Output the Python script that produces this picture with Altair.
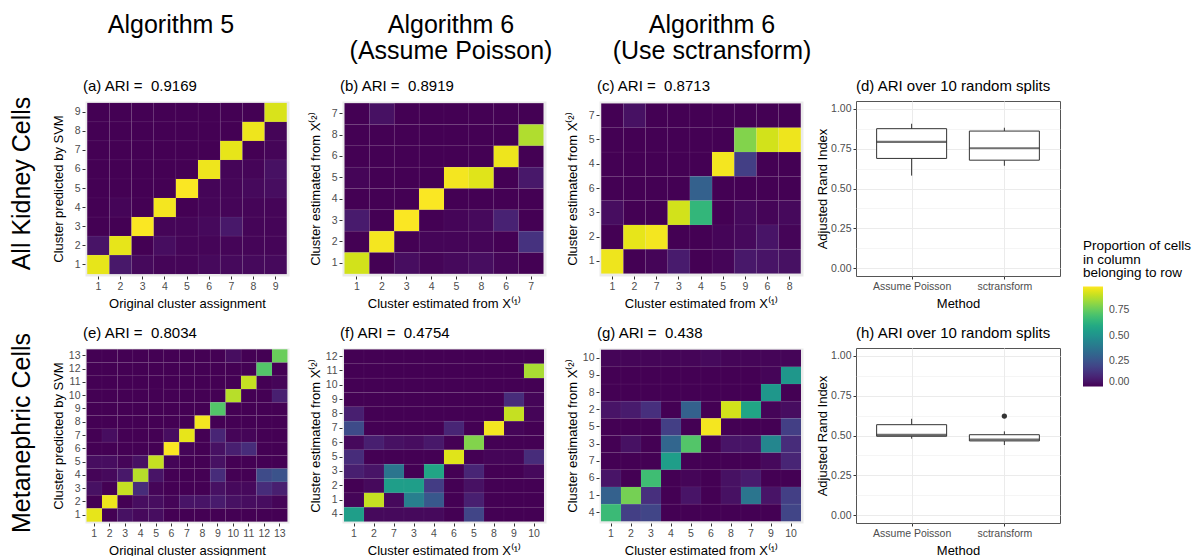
import altair as alt
import pandas as pd

# ---------------- heatmap data (rows listed top -> bottom) ----------------
A_cols = ["1", "2", "3", "4", "5", "6", "7", "8", "9"]
A_rows = ["9", "8", "7", "6", "5", "4", "3", "2", "1"]
A_vals = [
    [0.00, 0.00, 0.00, 0.00, 0.00, 0.00, 0.00, 0.00, 0.93],
    [0.00, 0.00, 0.00, 0.00, 0.00, 0.00, 0.00, 0.96, 0.01],
    [0.00, 0.00, 0.00, 0.00, 0.00, 0.00, 0.95, 0.00, 0.01],
    [0.00, 0.00, 0.00, 0.00, 0.00, 0.96, 0.01, 0.01, 0.04],
    [0.00, 0.00, 0.00, 0.00, 0.98, 0.01, 0.01, 0.02, 0.03],
    [0.00, 0.01, 0.00, 0.97, 0.00, 0.01, 0.01, 0.01, 0.01],
    [0.00, 0.00, 0.98, 0.01, 0.01, 0.02, 0.06, 0.01, 0.01],
    [0.05, 0.95, 0.00, 0.03, 0.01, 0.01, 0.01, 0.01, 0.01],
    [0.95, 0.06, 0.02, 0.01, 0.01, 0.02, 0.02, 0.02, 0.02],
]

B_cols = ["1", "2", "3", "4", "5", "8", "6", "7"]
B_rows = ["7", "8", "6", "5", "4", "3", "2", "1"]
B_vals = [
    [0.00, 0.04, 0.00, 0.00, 0.00, 0.00, 0.00, 0.00],
    [0.00, 0.00, 0.00, 0.00, 0.00, 0.00, 0.00, 0.87],
    [0.00, 0.00, 0.00, 0.00, 0.00, 0.00, 0.96, 0.00],
    [0.01, 0.00, 0.00, 0.00, 0.97, 0.94, 0.00, 0.06],
    [0.00, 0.00, 0.00, 0.98, 0.00, 0.00, 0.00, 0.00],
    [0.07, 0.00, 0.98, 0.00, 0.01, 0.02, 0.09, 0.00],
    [0.00, 0.97, 0.00, 0.01, 0.01, 0.01, 0.00, 0.14],
    [0.92, 0.00, 0.03, 0.01, 0.02, 0.03, 0.01, 0.00],
]

C_cols = ["1", "2", "7", "3", "4", "5", "9", "6", "8"]
C_rows = ["7", "5", "4", "6", "3", "2", "1"]
C_vals = [
    [0.00, 0.04, 0.00, 0.00, 0.00, 0.00, 0.00, 0.00, 0.00],
    [0.00, 0.00, 0.00, 0.00, 0.00, 0.00, 0.80, 0.92, 0.96],
    [0.00, 0.00, 0.00, 0.00, 0.00, 0.97, 0.18, 0.00, 0.00],
    [0.00, 0.00, 0.00, 0.00, 0.30, 0.00, 0.00, 0.00, 0.00],
    [0.03, 0.00, 0.00, 0.92, 0.65, 0.00, 0.02, 0.01, 0.02],
    [0.00, 0.95, 0.97, 0.00, 0.00, 0.01, 0.02, 0.05, 0.01],
    [0.96, 0.00, 0.01, 0.07, 0.00, 0.01, 0.06, 0.05, 0.04],
]

E_cols = ["1", "2", "3", "4", "5", "6", "7", "8", "9", "10", "11", "12", "13"]
E_rows = ["13", "12", "11", "10", "9", "8", "7", "6", "5", "4", "3", "2", "1"]
E_vals = [
    [0.00, 0.00, 0.00, 0.00, 0.00, 0.00, 0.00, 0.00, 0.00, 0.03, 0.00, 0.00, 0.76],
    [0.00, 0.00, 0.00, 0.00, 0.00, 0.00, 0.00, 0.00, 0.00, 0.00, 0.00, 0.72, 0.00],
    [0.00, 0.00, 0.00, 0.00, 0.00, 0.00, 0.00, 0.00, 0.00, 0.00, 0.90, 0.00, 0.01],
    [0.00, 0.00, 0.00, 0.00, 0.00, 0.00, 0.00, 0.00, 0.00, 0.88, 0.00, 0.00, 0.08],
    [0.00, 0.00, 0.00, 0.00, 0.00, 0.00, 0.00, 0.00, 0.72, 0.00, 0.00, 0.00, 0.00],
    [0.00, 0.00, 0.00, 0.00, 0.00, 0.00, 0.00, 0.97, 0.00, 0.00, 0.00, 0.00, 0.00],
    [0.00, 0.03, 0.00, 0.00, 0.00, 0.03, 0.95, 0.00, 0.10, 0.01, 0.01, 0.00, 0.00],
    [0.00, 0.00, 0.00, 0.00, 0.00, 0.98, 0.01, 0.00, 0.04, 0.08, 0.12, 0.00, 0.00],
    [0.03, 0.03, 0.01, 0.04, 0.90, 0.01, 0.00, 0.00, 0.04, 0.00, 0.00, 0.00, 0.00],
    [0.01, 0.02, 0.06, 0.88, 0.05, 0.00, 0.00, 0.00, 0.12, 0.00, 0.00, 0.22, 0.25],
    [0.04, 0.00, 0.90, 0.12, 0.01, 0.00, 0.00, 0.00, 0.04, 0.02, 0.02, 0.12, 0.08],
    [0.00, 0.96, 0.00, 0.03, 0.03, 0.01, 0.05, 0.05, 0.07, 0.04, 0.03, 0.03, 0.01],
    [0.95, 0.00, 0.04, 0.02, 0.03, 0.00, 0.00, 0.00, 0.00, 0.00, 0.00, 0.00, 0.00],
]

F_cols = ["1", "2", "7", "3", "4", "6", "5", "8", "9", "10"]
F_rows = ["12", "11", "10", "9", "8", "7", "6", "5", "3", "2", "1", "4"]
F_vals = [
    [0.00, 0.00, 0.00, 0.00, 0.00, 0.00, 0.00, 0.00, 0.00, 0.00],
    [0.00, 0.00, 0.00, 0.00, 0.00, 0.00, 0.00, 0.00, 0.00, 0.86],
    [0.00, 0.00, 0.00, 0.00, 0.00, 0.00, 0.00, 0.00, 0.00, 0.00],
    [0.00, 0.00, 0.00, 0.00, 0.00, 0.00, 0.00, 0.00, 0.12, 0.01],
    [0.08, 0.00, 0.00, 0.00, 0.00, 0.00, 0.00, 0.00, 0.90, 0.01],
    [0.22, 0.00, 0.00, 0.00, 0.00, 0.10, 0.00, 0.97, 0.01, 0.00],
    [0.02, 0.08, 0.04, 0.03, 0.06, 0.00, 0.80, 0.00, 0.00, 0.00],
    [0.12, 0.00, 0.00, 0.00, 0.00, 0.94, 0.00, 0.01, 0.01, 0.12],
    [0.08, 0.05, 0.38, 0.00, 0.58, 0.00, 0.10, 0.00, 0.00, 0.02],
    [0.00, 0.02, 0.55, 0.55, 0.17, 0.00, 0.04, 0.00, 0.00, 0.00],
    [0.01, 0.90, 0.02, 0.42, 0.27, 0.00, 0.08, 0.00, 0.00, 0.00],
    [0.55, 0.02, 0.02, 0.02, 0.02, 0.00, 0.20, 0.00, 0.00, 0.00],
]

G_cols = ["1", "2", "3", "4", "5", "6", "8", "7", "9", "10"]
G_rows = ["10", "9", "8", "2", "5", "3", "7", "6", "1", "4"]
G_vals = [
    [0.01, 0.01, 0.01, 0.01, 0.01, 0.02, 0.01, 0.01, 0.01, 0.01],
    [0.00, 0.00, 0.00, 0.00, 0.00, 0.00, 0.00, 0.00, 0.01, 0.52],
    [0.00, 0.00, 0.00, 0.00, 0.00, 0.00, 0.00, 0.00, 0.52, 0.00],
    [0.05, 0.07, 0.13, 0.00, 0.30, 0.00, 0.92, 0.58, 0.01, 0.03],
    [0.00, 0.00, 0.00, 0.18, 0.00, 0.97, 0.00, 0.00, 0.00, 0.18],
    [0.00, 0.04, 0.00, 0.32, 0.72, 0.00, 0.05, 0.05, 0.45, 0.12],
    [0.00, 0.00, 0.00, 0.55, 0.00, 0.00, 0.00, 0.00, 0.02, 0.10],
    [0.05, 0.00, 0.68, 0.00, 0.01, 0.00, 0.04, 0.07, 0.00, 0.00],
    [0.30, 0.78, 0.13, 0.00, 0.05, 0.00, 0.04, 0.38, 0.05, 0.18],
    [0.67, 0.18, 0.20, 0.00, 0.00, 0.00, 0.00, 0.00, 0.00, 0.20],
]

# ---------------- boxplot summary data (ARI over 10 random splits) ----------------
methods = ["Assume Poisson", "sctransform"]
D_low = [0.581, 0.643]
D_q1 = [0.689, 0.678]
D_med = [0.793, 0.753]
D_q3 = [0.876, 0.861]
D_high = [0.907, 0.882]
D_out_method = []
D_out_value = []

H_low = [0.480, 0.440]
H_q1 = [0.495, 0.466]
H_med = [0.504, 0.475]
H_q3 = [0.568, 0.505]
H_high = [0.605, 0.526]
H_out_method = ["sctransform"]
H_out_value = [0.622]

# ---------------- text ----------------
titles = {
    "a": "(a) ARI =\u00a0 0.9169", "b": "(b) ARI =\u00a0 0.8919", "c": "(c) ARI =\u00a0 0.8713",
    "d": "(d) ARI over 10 random splits",
    "e": "(e) ARI =\u00a0 0.8034", "f": "(f) ARI =\u00a0 0.4754", "g": "(g) ARI =\u00a0 0.438",
    "h": "(h) ARI over 10 random splits",
}
headers = ["Algorithm 5", "Algorithm 6\n(Assume Poisson)", "Algorithm 6\n(Use sctransform)"]
row_labels = ["All Kidney Cells", "Metanephric Cells"]
svm_x = "Original cluster assignment"
svm_y = "Cluster predicted by SVM"
est_x = "Cluster estimated from X\u207d\u00b9\u207e"
est_y = "Cluster estimated from X\u207d\u00b2\u207e"
legend_title = ["Proportion of cells", "in column", "belonging to row"]

W = 204
H = 175
FONT = "Liberation Sans"

COLOR_SCALE = alt.Scale(scheme="viridis", domain=[0, 0.985])
LEGEND = alt.Legend(
    title=legend_title, orient="none", legendX=998, legendY=138,
    gradientLength=100, gradientThickness=20, values=[0, 0.25, 0.5, 0.75],
    format=".2f", titleFontSize=13.5, titleFontWeight="normal", titleLineHeight=13.5,
    titleColor="black", labelFontSize=10.5, labelColor="#4d4d4d", labelOffset=6,
    labelBaseline="middle",
    titlePadding=7, padding=0, gradientStrokeWidth=0, titleFont=FONT, labelFont=FONT,
)


def long_df(rows, cols, vals):
    recs = []
    for i, r in enumerate(rows):
        for j, c in enumerate(cols):
            recs.append({"row": r, "col": c, "value": vals[i][j]})
    return pd.DataFrame(recs)


def text_layer(label, x, y, size=25, angle=0, align="center"):
    return alt.Chart(pd.DataFrame({"label": [label]})).mark_text(
        fontSize=size, font=FONT, color="black", align=align, baseline="alphabetic",
        lineBreak="\n", lineHeight=26, angle=angle,
    ).encode(text="label:N", x=alt.value(x), y=alt.value(y))


def heatmap(rows, cols, vals, title, xtitle, ytitle, extra=()):
    df = long_df(rows, cols, vals)
    heat = alt.Chart(df).mark_rect(stroke="white", strokeOpacity=0.06, strokeWidth=0.6).encode(
        x=alt.X("col:N", sort=cols, title=xtitle,
                scale=alt.Scale(paddingInner=0, paddingOuter=0.1),
                axis=alt.Axis(labelAngle=0, bandPosition=0.5, titleY=31,
                              titleBaseline="alphabetic", grid=False)),
        y=alt.Y("row:N", sort=rows, title=ytitle,
                scale=alt.Scale(paddingInner=0, paddingOuter=0.1),
                axis=alt.Axis(bandPosition=0.5, titleX=-22.5, titleY=H / 2, titleAngle=270,
                              titleAlign="center", titleBaseline="alphabetic", grid=False)),
        color=alt.Color("value:Q", scale=COLOR_SCALE, legend=LEGEND),
    )
    ttl = text_layer(title, -2, -10, size=15, align="left")
    return alt.layer(heat, ttl, *extra).properties(
        width=W, height=H,
        view=alt.ViewBackground(fill="#ebebeb", stroke="transparent"),
    )


def boxplot(low, q1, med, q3, high, out_m, out_v, title):
    df = pd.DataFrame({"method": methods, "low": low, "q1": q1, "med": med, "q3": q3, "high": high})
    odf = pd.DataFrame({"method": out_m, "value": out_v})
    xenc = alt.X("method:N", sort=methods, title="Method",
                 scale=alt.Scale(type="point", padding=0.6),
                 axis=alt.Axis(labelAngle=0, grid=True, gridColor="#ebebeb", gridWidth=1,
                               titleY=31, titleBaseline="alphabetic"))
    yscale = alt.Scale(domain=[-0.05, 1.05], nice=False, zero=False)
    yaxis = alt.Axis(
        values=[0, 0.125, 0.25, 0.375, 0.5, 0.625, 0.75, 0.875, 1.0],
        labelExpr="datum.value % 0.25 === 0 ? format(datum.value, '.2f') : ''",
        tickOpacity={"condition": {"test": "datum.value % 0.25 !== 0", "value": 0}, "value": 1},
        gridWidth={"condition": {"test": "datum.value % 0.25 !== 0", "value": 0.5}, "value": 1},
        grid=True, gridColor="#ebebeb",
        titleX=-30, titleY=H / 2, titleAngle=270, titleAlign="center", titleBaseline="alphabetic",
    )
    ytitle = "Adjusted Rand Index"
    whisk = alt.Chart(df).mark_rule(color="#333333", strokeWidth=1).encode(
        x=xenc, y=alt.Y("low:Q", scale=yscale, axis=yaxis, title=ytitle), y2="high:Q")
    box = alt.Chart(df).mark_bar(size=70, fill="white", stroke="#333333", strokeWidth=1).encode(
        x=xenc, y=alt.Y("q1:Q", scale=yscale, axis=yaxis, title=ytitle), y2="q3:Q")
    medl = alt.Chart(df).mark_tick(size=70, thickness=2.2, color="#333333", orient="horizontal").encode(
        x=xenc, y=alt.Y("med:Q", scale=yscale, axis=yaxis, title=ytitle))
    ttl = text_layer(title, 0, -10, size=15, align="left")
    layers = [whisk, box, medl]
    if len(out_v):
        pts = alt.Chart(odf).mark_circle(size=28, color="#333333", opacity=1).encode(
            x=xenc, y=alt.Y("value:Q", scale=yscale, axis=yaxis, title=ytitle))
        layers.append(pts)
    layers.append(ttl)
    return alt.layer(*layers).properties(
        width=W, height=H,
        view=alt.ViewBackground(fill="white", stroke="#555555", strokeWidth=1),
    )


pa = heatmap(A_rows, A_cols, A_vals, titles["a"], svm_x, svm_y,
             extra=[text_layer(headers[0], 86, -68), text_layer(row_labels[0], -55, 82.5, angle=270)])
pb = heatmap(B_rows, B_cols, B_vals, titles["b"], est_x, est_y,
             extra=[text_layer(headers[1], 109, -68)])
pc = heatmap(C_rows, C_cols, C_vals, titles["c"], est_x, est_y,
             extra=[text_layer(headers[2], 113, -68)])
pdd = boxplot(D_low, D_q1, D_med, D_q3, D_high, D_out_method, D_out_value, titles["d"])
pe = heatmap(E_rows, E_cols, E_vals, titles["e"], svm_x, svm_y,
             extra=[text_layer(row_labels[1], -55, 85, angle=270)])
pf = heatmap(F_rows, F_cols, F_vals, titles["f"], est_x, est_y)
pg = heatmap(G_rows, G_cols, G_vals, titles["g"], est_x, est_y)
ph = boxplot(H_low, H_q1, H_med, H_q3, H_high, H_out_method, H_out_value, titles["h"])

chart = alt.concat(
    pa, pb, pc, pdd, pe, pf, pg, ph,
    columns=4, spacing={"row": 72, "column": 53}, bounds="flush",
).resolve_scale(color="shared").resolve_legend(color="shared").properties(
    padding={"left": 9, "top": 12, "right": 0, "bottom": 0},
).configure(font=FONT).configure_axis(
    labelFontSize=10.5, labelColor="#4d4d4d", labelFont=FONT,
    titleFontSize=13, titleFontWeight="normal", titleColor="black", titleFont=FONT,
    tickColor="#333333", tickSize=3, tickWidth=1, domain=False, labelPadding=2,
)

chart.save("out.html", embed_options={"renderer": "svg", "actions": False})
